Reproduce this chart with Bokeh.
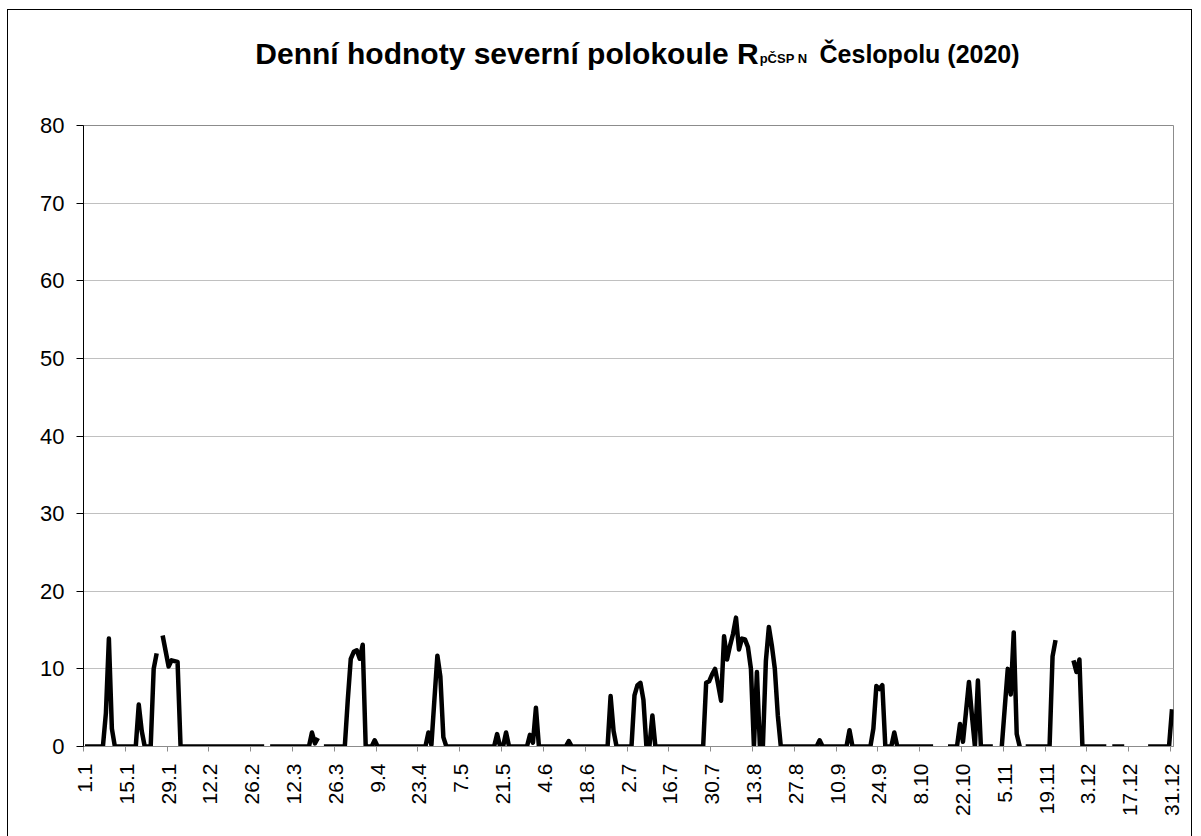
import numpy as np
from bokeh.plotting import figure
from bokeh.layouts import column
from bokeh.models import Range1d, FixedTicker
from bokeh.embed import file_html
from bokeh.resources import INLINE
from bokeh.core.properties import value

N = None  # missing day (gap in the line)

# daily values, one list per month (29.2 is not in the data)
jan = [0, 0, 0, 0, 0, 0, 0, 4.3, 13.9, 2.3,
       0, 0, 0, 0, 0, 0, 0, 0, 5.4, 2.0,
       0, 0, 0, 10.0, 12.0, N, 14.3, 12.3, 10.3, 11.1,
       11.0]
feb = [10.9, 0, 0, 0, 0, 0, 0, 0, 0, 0,
       0, 0, 0, 0, 0, 0, 0, 0, 0, 0,
       0, 0, 0, 0, 0, 0, 0, 0]
mar = [0, 0, N, 0, 0, 0, 0, 0, 0, 0,
       0, 0, 0, 0, 0, 0, 0, 1.8, 0.4, 1.1,
       N, 0, 0, 0, 0, 0, 0, 0, 0, 6.0,
       11.3]
apr = [12.2, 12.4, 11.3, 13.1, 0, 0, 0, 0.8, 0, 0,
       0, 0, 0, 0, 0, 0, 0, 0, 0, 0,
       0, 0, 0, 0, 0, 1.8, 0.2, 6.0, 11.7, 9.0]
may = [1.2, 0, 0, 0, 0, 0, 0, 0, 0, 0,
       0, 0, 0, 0, 0, 0, 0, 0, 1.6, 0,
       0, 1.8, 0, 0, 0, 0, 0, 0, 0, 1.5,
       0.5]
jun = [5.0, 0, 0, 0, 0, 0, 0, 0, 0, 0,
       0, 0.7, 0, 0, 0, 0, 0, 0, 0, 0,
       0, 0, 0, 0, 0, 6.5, 2.0, 0, 0, 0]
jul = [0, 0, 0, 6.6, 7.9, 8.2, 6.0, 0, 0, 4.0,
       0, 0, 0, 0, 0, 0, 0, 0, 0, 0,
       0, 0, 0, 0, 0, 0, 0, 8.2, 8.4, 9.3,
       10.0]
aug = [8.0, 5.9, 14.2, 11.2, 13.0, 14.5, 16.6, 12.5, 13.9, 13.8,
       12.8, 10.0, 0, 9.6, 0, 0, 11.0, 15.4, 13.0, 10.0,
       4.0, 0, 0, 0, 0, 0, 0, 0, 0, 0,
       0]
sep = [0, 0, 0, 0.8, 0, 0, 0, 0, 0, 0,
       0, 0, 0, 2.1, 0, 0, 0, 0, 0, 0,
       0, 2.3, 7.8, 7.4, 7.9, 0, 0, 0, 1.8, 0]
oct_ = [0, 0, 0, 0, 0, 0, 0, 0, 0, 0,
        0, 0, N, N, N, N, 0, 0, 0, 0,
        2.9, 0.6, 4.4, 8.3, 4.0, 0, 8.5, 0, 0, 0,
        0]
nov = [0, N, N, 0, 5.0, 10.0, 6.7, 14.7, 1.6, 0,
       N, 0, 0, 0, 0, 0, 0, 0, 0, 0,
       11.6, 13.7, N, N, N, N, N, 11.1, 9.6, 11.2]
dec = [0, 0, 0, 0, 0, 0, 0, 0, 0, N,
       0, 0, 0, 0, 0, N, N, N, N, N,
       N, N, 0, 0, 0, 0, 0, 0, 0, 0,
       4.8]

tick_labels = ["1.1", "15.1", "29.1", "12.2", "26.2", "12.3", "26.3", "9.4",
               "23.4", "7.5", "21.5", "4.6", "18.6", "2.7", "16.7", "30.7",
               "13.8", "27.8", "10.9", "24.9", "8.10", "22.10", "5.11",
               "19.11", "3.12", "17.12", "31.12"]
label_every = 14
y_ticks = [0, 10, 20, 30, 40, 50, 60, 70, 80]

title_main = "Denní hodnoty severní polokoule R"
title_sub = "pČSP N"
title_end = "Česlopolu (2020)"

months = [jan, feb, mar, apr, may, jun, jul, aug, sep, oct_, nov, dec]
series = [v for m in months for v in m]
vals = np.array([np.nan if v is None else v for v in series], dtype=float)
n = len(vals)
xs = np.arange(n) + 0.5

FONT = "Liberation Sans"
GRAY = "#8c8c8c"
W = 1201
TOP_H = 100

# ---- title strip (its frame is the whole strip, in page pixels) ----
t = figure(width=W, height=TOP_H, x_range=Range1d(0, W), y_range=Range1d(TOP_H, 0),
           output_backend="svg", toolbar_location=None,
           x_axis_location=None, y_axis_location=None,
           min_border_left=0, min_border_right=0, min_border_top=0, min_border_bottom=0)
t.grid.visible = False
t.outline_line_color = None
t.background_fill_color = None
t.border_fill_color = None
t.text(x=[744], y=[53], text=[title_main], text_font=value(FONT), text_font_style="bold",
       text_font_size="30px", text_align="right", text_baseline="alphabetic", text_color="black")
t.text(x=[745], y=[58], text=[title_sub], text_font=value(FONT), text_font_style="bold",
       text_font_size="13px", text_align="left", text_baseline="alphabetic", text_color="black")
t.text(x=[811], y=[53], text=[title_end], text_font=value(FONT), text_font_style="bold",
       text_font_size="25px", text_align="left", text_baseline="alphabetic", text_color="black")

# ---- main chart ----
p = figure(width=W, height=836 - TOP_H, x_range=Range1d(0, n), y_range=Range1d(0, 80),
           output_backend="svg", toolbar_location=None,
           min_border_left=83, min_border_right=28, min_border_top=25, min_border_bottom=90)
p.background_fill_color = "white"
p.border_fill_color = None
p.outline_line_color = GRAY
p.outline_line_width = 1

p.line(xs, vals, line_color="black", line_width=4.5, line_join="round", line_cap="butt")

major = [k * label_every + 0.5 for k in range(len(tick_labels))]
minor = [k * label_every for k in range(len(tick_labels))]
xa = p.xaxis[0]
xa.ticker = FixedTicker(ticks=major, minor_ticks=minor)
xa.major_label_overrides = {tk: lab for tk, lab in zip(major, tick_labels)}
xa.major_label_orientation = np.pi / 2
xa.major_tick_line_color = None
xa.major_tick_out = 5
xa.major_tick_in = 0
xa.minor_tick_line_color = GRAY
xa.minor_tick_out = 5
xa.minor_tick_in = 0
xa.axis_line_color = GRAY
xa.major_label_standoff = 12
xa.major_label_text_font = FONT
xa.major_label_text_font_size = "21px"
xa.major_label_text_color = "black"

ya = p.yaxis[0]
ya.ticker = FixedTicker(ticks=y_ticks)
ya.major_tick_out = 7
ya.major_tick_in = 0
ya.major_tick_line_color = "black"
ya.axis_line_color = "black"
ya.major_label_standoff = 12
ya.major_label_text_font = FONT
ya.major_label_text_font_size = "22px"
ya.major_label_text_color = "black"

p.xgrid.visible = False
p.ygrid.grid_line_color = "#c0c0c0"
p.ygrid.grid_line_width = 1

# thin black chart border (left, top, right) drawn as CSS shadows behind the transparent canvases
border = ("inset 7px 0 0 0 #fff, inset -9px 0 0 0 #fff, inset 0 9px 0 0 #fff, "
          "inset 8px 0 0 0 #000, inset -10px 0 0 0 #000, inset 0 10px 0 0 #000")
layout = column(t, p, spacing=0, styles={"box-shadow": border, "background": "#fff"})

open("out.html", "w").write(file_html(layout, INLINE))
